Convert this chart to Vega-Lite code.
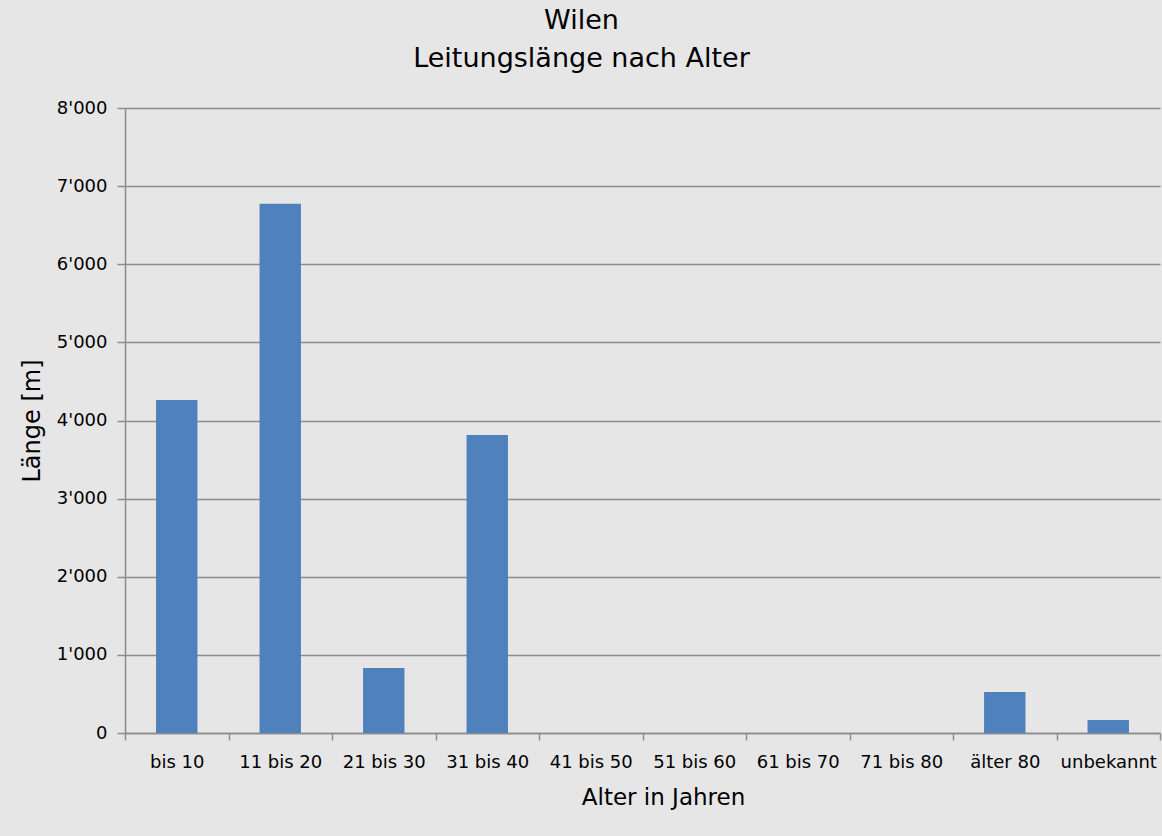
{
  "$schema": "https://vega.github.io/schema/vega-lite/v6.json",
  "autosize": "none",
  "width": 1035,
  "height": 625,
  "padding": {"left": 125, "top": 108, "right": 2, "bottom": 103},
  "background": "#e6e6e6",
  "title": {
    "text": ["Wilen", "Leitungslänge nach Alter"],
    "font": "DejaVu Sans",
    "fontSize": 27,
    "fontWeight": "normal",
    "color": "#000000",
    "anchor": "middle",
    "dx": -61,
    "offset": 26,
    "lineHeight": 38
  },
  "data": {
    "values": [
      {"Alter": "bis 10", "Laenge": 4264},
      {"Alter": "11 bis 20", "Laenge": 6773},
      {"Alter": "21 bis 30", "Laenge": 832},
      {"Alter": "31 bis 40", "Laenge": 3815},
      {"Alter": "41 bis 50", "Laenge": 0},
      {"Alter": "51 bis 60", "Laenge": 0},
      {"Alter": "61 bis 70", "Laenge": 0},
      {"Alter": "71 bis 80", "Laenge": 0},
      {"Alter": "älter 80", "Laenge": 525},
      {"Alter": "unbekannt", "Laenge": 166}
    ]
  },
  "mark": {"type": "bar", "color": "#4f81bd", "width": {"band": 0.4}},
  "encoding": {
    "x": {
      "field": "Alter",
      "type": "nominal",
      "sort": null,
      "scale": {"paddingInner": 0, "paddingOuter": 0},
      "axis": {
        "title": "Alter in Jahren",
        "titleFont": "DejaVu Sans",
        "titleFontSize": 23,
        "titleFontWeight": "normal",
        "titleColor": "#000000",
        "titlePadding": 15,
        "titleX": 538,
        "labelAngle": 0,
        "labelFont": "DejaVu Sans",
        "labelFontSize": 18,
        "labelColor": "#000000",
        "labelPadding": 13,
        "bandPosition": 0,
        "tickBand": "extent",
        "ticks": true,
        "tickSize": 7,
        "tickColor": "#8c8c8c",
        "tickWidth": 1.5,
        "domainColor": "#8c8c8c",
        "domainWidth": 1.5,
        "grid": false
      }
    },
    "y": {
      "field": "Laenge",
      "type": "quantitative",
      "scale": {"domain": [0, 8000]},
      "axis": {
        "title": "Länge [m]",
        "titleFont": "DejaVu Sans",
        "titleFontSize": 24,
        "titleFontWeight": "normal",
        "titleColor": "#000000",
        "titlePadding": 12,
        "values": [0, 1000, 2000, 3000, 4000, 5000, 6000, 7000, 8000],
        "labelExpr": "replace(format(datum.value, ','), ',', \"'\")",
        "labelFont": "DejaVu Sans",
        "labelFontSize": 18,
        "labelColor": "#000000",
        "labelPadding": 10,
        "tickSize": 8,
        "tickColor": "#8c8c8c",
        "tickWidth": 1.5,
        "domainColor": "#8c8c8c",
        "domainWidth": 1.5,
        "grid": true,
        "gridColor": "#8c8c8c",
        "gridWidth": 1.5
      }
    }
  },
  "config": {"view": {"stroke": null}}
}
